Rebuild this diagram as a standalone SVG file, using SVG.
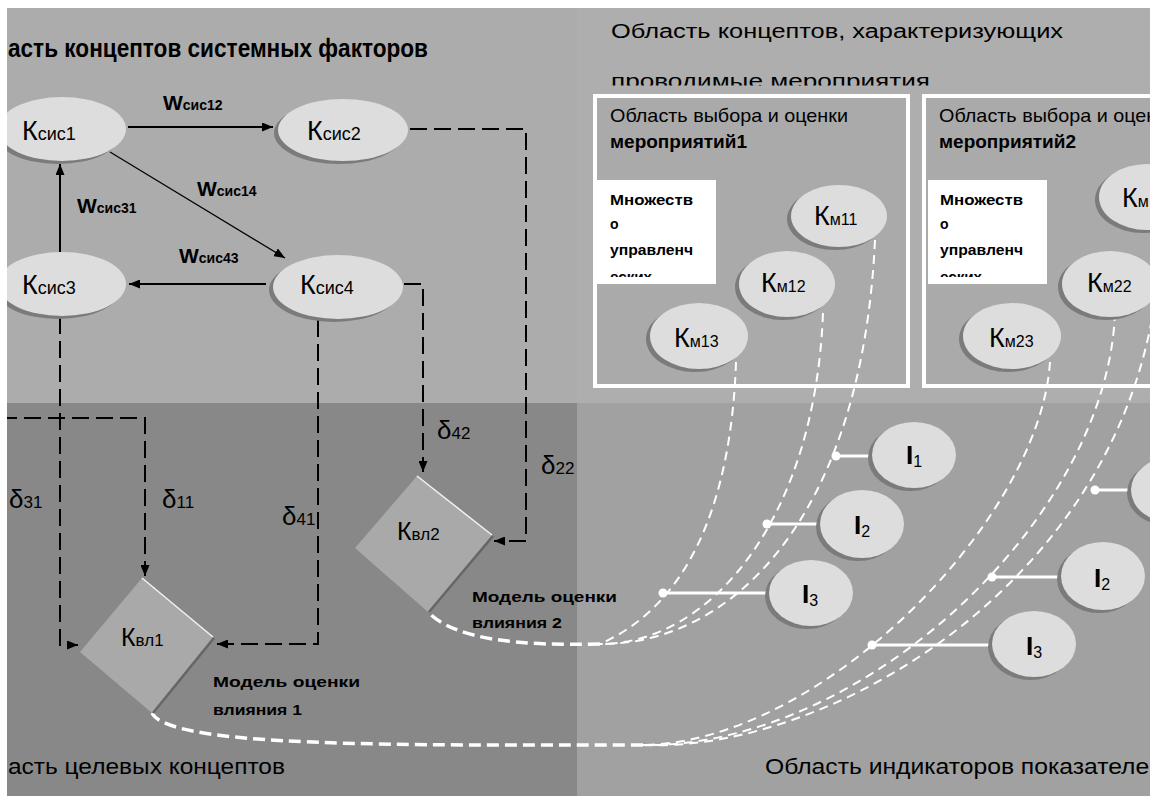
<svg xmlns="http://www.w3.org/2000/svg" width="1156" height="796" viewBox="0 0 1156 796">
<style>
  .t { font-family: "Liberation Sans", Arial, sans-serif; fill: #000; }
  .b { font-weight: bold; }
  .kb { font-size: 27px; }
  .ks { font-size: 18px; }
  .km { font-size: 16px; }
  .kv { font-size: 25px; }
  .kvs { font-size: 17px; }
  .wb { font-size: 21px; font-weight: bold; }
  .ws { font-size: 14px; font-weight: bold; }
  .db { font-size: 26px; }
  .ds { font-size: 17px; }
  .ib { font-size: 26px; font-weight: bold; }
  .is { font-size: 16px; }
  .el { fill: #dddddd; }
  .sh { fill: #7b7b7b; }
  .solid { stroke: #000; stroke-width: 2; fill: none; }
  .thin { stroke: #000; stroke-width: 1.2; fill: none; }
  .dash { stroke: #000; stroke-width: 2; fill: none; stroke-dasharray: 17 7; }
  .wd { stroke: #fff; stroke-width: 2; fill: none; stroke-dasharray: 9 6; }
  .wdm { stroke: #fff; stroke-width: 3.5; fill: none; stroke-dasharray: 12 6; }
  .il { stroke: #fff; stroke-width: 3; }
  .dot { fill: #fff; }
  .dm { fill: #a9a9a9; }
  .hl { stroke: #f2f2f2; stroke-width: 1.5; }
  .dk { stroke: #666; stroke-width: 2.5; }
  .box { fill: #aaaaaa; stroke: #fff; stroke-width: 4; }
</style>
<defs>
  <marker id="arr" viewBox="0 0 11 9" refX="11" refY="4.5" markerWidth="11" markerHeight="9" markerUnits="userSpaceOnUse" orient="auto">
    <path d="M0,0 L11,4.5 L0,9 z" fill="#000"/>
  </marker>
  <clipPath id="clipSub"><rect x="600" y="60" width="400" height="25.5"/></clipPath>
  <clipPath id="clipL1"><rect x="597" y="180" width="119" height="97"/></clipPath>
  <clipPath id="clipL2"><rect x="928" y="180" width="119" height="97"/></clipPath>
</defs>

<!-- four areas of the field -->
<g id="areas">
  <rect x="0" y="0" width="577" height="403" fill="#acacac"/>
  <rect x="577" y="0" width="579" height="403" fill="#aeaeae"/>
  <rect x="0" y="403" width="577" height="393" fill="#888888"/>
  <rect x="577" y="403" width="579" height="393" fill="#a1a1a1"/>
</g>

<g id="area-titles">
  <text class="t b" x="8" y="57" font-size="25" textLength="420" lengthAdjust="spacingAndGlyphs">асть концептов системных факторов</text>
  <text class="t" x="611" y="38" font-size="20" textLength="452" lengthAdjust="spacingAndGlyphs">Область концептов, характеризующих</text>
  <text class="t" x="611" y="88" font-size="20" textLength="319" lengthAdjust="spacingAndGlyphs" clip-path="url(#clipSub)">проводимые мероприятия</text>
  <text class="t" x="8" y="774" font-size="22" textLength="277" lengthAdjust="spacingAndGlyphs">асть целевых концептов</text>
  <text class="t" x="765" y="774" font-size="22" textLength="398" lengthAdjust="spacingAndGlyphs">Область индикаторов показателей</text>
</g>

<!-- measure selection boxes -->
<g id="choice-box-1">
  <rect class="box" x="595" y="96" width="313" height="290"/>
  <text class="t" x="610" y="122" font-size="19" textLength="238" lengthAdjust="spacingAndGlyphs">Область выбора и оценки</text>
  <text class="t b" x="610" y="148" font-size="18" textLength="137" lengthAdjust="spacingAndGlyphs">мероприятий1</text>
  <rect x="597" y="180" width="119" height="104" fill="#fff"/>
  <g class="t b" font-size="14" clip-path="url(#clipL1)">
    <text x="610" y="205" textLength="83" lengthAdjust="spacingAndGlyphs">Множеств</text>
    <text x="610" y="229">о</text>
    <text x="610" y="255" textLength="83" lengthAdjust="spacingAndGlyphs">управленч</text>
    <text x="610" y="282" textLength="42" lengthAdjust="spacingAndGlyphs">еских</text>
  </g>
</g>
<g id="choice-box-2">
  <rect class="box" x="924" y="96" width="260" height="290"/>
  <text class="t" x="939" y="122" font-size="19" textLength="238" lengthAdjust="spacingAndGlyphs">Область выбора и оценки</text>
  <text class="t b" x="939" y="148" font-size="18" textLength="137" lengthAdjust="spacingAndGlyphs">мероприятий2</text>
  <rect x="928" y="180" width="119" height="104" fill="#fff"/>
  <g class="t b" font-size="14" clip-path="url(#clipL2)">
    <text x="940" y="205" textLength="83" lengthAdjust="spacingAndGlyphs">Множеств</text>
    <text x="940" y="229">о</text>
    <text x="940" y="255" textLength="83" lengthAdjust="spacingAndGlyphs">управленч</text>
    <text x="940" y="282" textLength="42" lengthAdjust="spacingAndGlyphs">еских</text>
  </g>
</g>

<g id="connectors">
  <!-- weighted links between system factors -->
  <line class="solid" x1="128" y1="127" x2="273" y2="127" marker-end="url(#arr)"/>
  <line class="thin" x1="110" y1="152" x2="285" y2="258" marker-end="url(#arr)"/>
  <line class="solid" x1="60" y1="252" x2="60" y2="164" marker-end="url(#arr)"/>
  <line class="solid" x1="266" y1="284" x2="129" y2="284" marker-end="url(#arr)"/>
  <!-- influence links to the target concepts -->
  <path class="dash" d="M410 129 H526 V541 H494" marker-end="url(#arr)"/>
  <path class="dash" d="M404 284 H423 V472" marker-end="url(#arr)"/>
  <path class="dash" d="M318 320 V644 H217" marker-end="url(#arr)"/>
  <path class="dash" d="M60 317 V645 H78" marker-end="url(#arr)"/>
  <path class="dash" d="M0 418 H145 V576" marker-end="url(#arr)"/>
  <!-- measure curves into model 2 -->
  <path class="wd" d="M736 362 C732 480 700 600 600 644"/>
  <path class="wd" d="M823 313 C815 520 710 644 600 644"/>
  <path class="wd" d="M875 240 C862 520 730 645 600 644"/>
  <path class="wdm" d="M600 644 C520 646 455 640 428 612"/>
  <!-- measure curves into model 1 -->
  <path class="wd" d="M1050 362 C1040 520 820 745 640 745"/>
  <path class="wd" d="M1115 312 C1108 520 860 750 640 745"/>
  <path class="wd" d="M1160 230 C1160 560 840 755 640 745"/>
  <path class="wdm" d="M643 745 C400 745 170 748 152 713"/>
  <!-- indicator taps -->
  <line class="il" x1="836" y1="456" x2="872" y2="456"/><circle class="dot" cx="836" cy="456" r="4.5"/>
  <line class="il" x1="767" y1="524" x2="820" y2="524"/><circle class="dot" cx="767" cy="524" r="4.5"/>
  <line class="il" x1="663" y1="593" x2="770" y2="593"/><circle class="dot" cx="663" cy="593" r="4.5"/>
  <line class="il" x1="1095" y1="490" x2="1131" y2="490"/><circle class="dot" cx="1095" cy="490" r="4.5"/>
  <line class="il" x1="992" y1="577" x2="1061" y2="577"/><circle class="dot" cx="992" cy="577" r="4.5"/>
  <line class="il" x1="872" y1="645" x2="992" y2="645"/><circle class="dot" cx="872" cy="645" r="4.5"/>
</g>

<!-- system factor concepts -->
<g id="k-sis1">
  <ellipse class="sh" cx="58" cy="132" rx="64" ry="32"/><ellipse class="el" cx="62" cy="129" rx="64" ry="32"/>
  <text class="t" x="22" y="140"><tspan class="kb">К</tspan><tspan class="ks">сис1</tspan></text>
</g>
<g id="k-sis2">
  <ellipse class="sh" cx="339" cy="133" rx="65" ry="31"/><ellipse class="el" cx="343" cy="130" rx="65" ry="31"/>
  <text class="t" x="307" y="140"><tspan class="kb">К</tspan><tspan class="ks">сис2</tspan></text>
</g>
<g id="k-sis3">
  <ellipse class="sh" cx="58" cy="287" rx="64" ry="32"/><ellipse class="el" cx="62" cy="284" rx="64" ry="32"/>
  <text class="t" x="22" y="294"><tspan class="kb">К</tspan><tspan class="ks">сис3</tspan></text>
</g>
<g id="k-sis4">
  <ellipse class="sh" cx="334" cy="290" rx="65" ry="32"/><ellipse class="el" cx="338" cy="287" rx="65" ry="32"/>
  <text class="t" x="300" y="294"><tspan class="kb">К</tspan><tspan class="ks">сис4</tspan></text>
</g>

<g id="weights" class="t">
  <text x="163" y="110"><tspan class="wb">W</tspan><tspan class="ws">сис12</tspan></text>
  <text x="197" y="196"><tspan class="wb">W</tspan><tspan class="ws">сис14</tspan></text>
  <text x="77" y="213"><tspan class="wb">W</tspan><tspan class="ws">сис31</tspan></text>
  <text x="179" y="263"><tspan class="wb">W</tspan><tspan class="ws">сис43</tspan></text>
</g>

<g id="deltas" class="t">
  <text x="9" y="508"><tspan class="db">δ</tspan><tspan class="ds">31</tspan></text>
  <text x="162" y="508"><tspan class="db">δ</tspan><tspan class="ds">11</tspan></text>
  <text x="282" y="525"><tspan class="db">δ</tspan><tspan class="ds">41</tspan></text>
  <text x="437" y="439"><tspan class="db">δ</tspan><tspan class="ds">42</tspan></text>
  <text x="541" y="474"><tspan class="db">δ</tspan><tspan class="ds">22</tspan></text>
</g>

<!-- target concepts (influence models) -->
<g id="k-vl1">
  <polygon class="dm" points="142,578 213,637 152,713 80,652"/>
  <line class="hl" x1="142" y1="578" x2="213" y2="637"/>
  <line class="dk" x1="214" y1="638" x2="153" y2="713"/>
  <text class="t" x="121" y="646"><tspan class="kv">К</tspan><tspan class="kvs">вл1</tspan></text>
  <text class="t b" x="213" y="687" font-size="15" textLength="147" lengthAdjust="spacingAndGlyphs">Модель оценки</text>
  <text class="t b" x="213" y="715" font-size="15" textLength="89" lengthAdjust="spacingAndGlyphs">влияния 1</text>
</g>
<g id="k-vl2">
  <polygon class="dm" points="417,476 492,535 428,612 355,548"/>
  <line class="hl" x1="417" y1="476" x2="492" y2="535"/>
  <line class="dk" x1="493" y1="536" x2="429" y2="612"/>
  <text class="t" x="397" y="540"><tspan class="kv">К</tspan><tspan class="kvs">вл2</tspan></text>
  <text class="t b" x="472" y="602" font-size="15" textLength="145" lengthAdjust="spacingAndGlyphs">Модель оценки</text>
  <text class="t b" x="472" y="628" font-size="15" textLength="90" lengthAdjust="spacingAndGlyphs">влияния 2</text>
</g>

<!-- measure concepts -->
<g id="k-m11">
  <ellipse class="sh" cx="835" cy="219" rx="48" ry="31"/><ellipse class="el" cx="839" cy="216" rx="48" ry="31"/>
  <text class="t" x="814" y="225"><tspan class="kb">К</tspan><tspan class="km">м11</tspan></text>
</g>
<g id="k-m12">
  <ellipse class="sh" cx="783" cy="287" rx="48" ry="33"/><ellipse class="el" cx="787" cy="284" rx="48" ry="33"/>
  <text class="t" x="761" y="292"><tspan class="kb">К</tspan><tspan class="km">м12</tspan></text>
</g>
<g id="k-m13">
  <ellipse class="sh" cx="695" cy="339" rx="49" ry="33"/><ellipse class="el" cx="699" cy="336" rx="49" ry="33"/>
  <text class="t" x="674" y="347"><tspan class="kb">К</tspan><tspan class="km">м13</tspan></text>
</g>
<g id="k-m21">
  <ellipse class="sh" cx="1143" cy="200" rx="48" ry="33"/><ellipse class="el" cx="1147" cy="197" rx="48" ry="33"/>
  <text class="t" x="1122" y="207"><tspan class="kb">К</tspan><tspan class="km">м</tspan></text>
</g>
<g id="k-m22">
  <ellipse class="sh" cx="1106" cy="287" rx="48" ry="33"/><ellipse class="el" cx="1110" cy="284" rx="48" ry="33"/>
  <text class="t" x="1087" y="292"><tspan class="kb">К</tspan><tspan class="km">м22</tspan></text>
</g>
<g id="k-m23">
  <ellipse class="sh" cx="1008" cy="339" rx="49" ry="33"/><ellipse class="el" cx="1012" cy="336" rx="49" ry="33"/>
  <text class="t" x="989" y="347"><tspan class="kb">К</tspan><tspan class="km">м23</tspan></text>
</g>

<!-- indicators -->
<g id="i1-a">
  <ellipse class="sh" cx="910" cy="458" rx="42" ry="33"/><ellipse class="el" cx="914" cy="455" rx="42" ry="33"/>
  <text class="t" x="906" y="464"><tspan class="ib">I</tspan><tspan class="is" dy="3">1</tspan></text>
</g>
<g id="i2-a">
  <ellipse class="sh" cx="858" cy="527" rx="42" ry="34"/><ellipse class="el" cx="862" cy="524" rx="42" ry="34"/>
  <text class="t" x="854" y="534"><tspan class="ib">I</tspan><tspan class="is" dy="3">2</tspan></text>
</g>
<g id="i3-a">
  <ellipse class="sh" cx="807" cy="596" rx="42" ry="33"/><ellipse class="el" cx="811" cy="593" rx="42" ry="33"/>
  <text class="t" x="802" y="603"><tspan class="ib">I</tspan><tspan class="is" dy="3">3</tspan></text>
</g>
<g id="i1-b">
  <ellipse class="sh" cx="1169" cy="493" rx="42" ry="33"/><ellipse class="el" cx="1173" cy="490" rx="42" ry="33"/>
</g>
<g id="i2-b">
  <ellipse class="sh" cx="1099" cy="579" rx="42" ry="34"/><ellipse class="el" cx="1103" cy="576" rx="42" ry="34"/>
  <text class="t" x="1094" y="587"><tspan class="ib">I</tspan><tspan class="is" dy="3">2</tspan></text>
</g>
<g id="i3-b">
  <ellipse class="sh" cx="1030" cy="647" rx="42" ry="33"/><ellipse class="el" cx="1034" cy="644" rx="42" ry="33"/>
  <text class="t" x="1026" y="655"><tspan class="ib">I</tspan><tspan class="is" dy="3">3</tspan></text>
</g>

<!-- white margin around the field -->
<path id="frame" fill="#fff" fill-rule="evenodd" d="M0 0 H1156 V796 H0 Z M7 8 V796 H1150 V8 Z"/>
</svg>
